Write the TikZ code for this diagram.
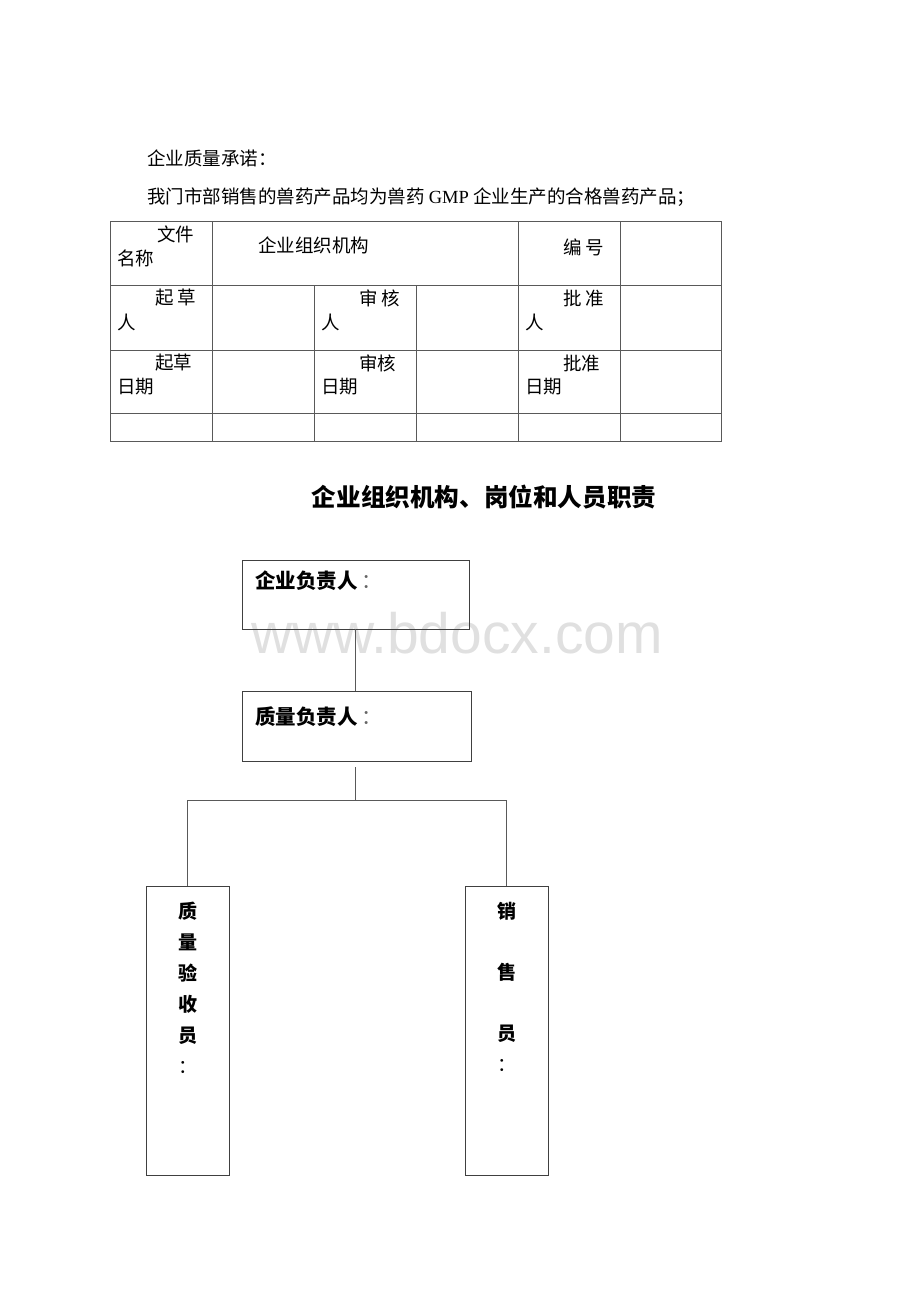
\documentclass[tikz,border=0pt]{standalone}
\usepackage{fontspec}
\setmainfont{Liberation Serif}
\newfontfamily\cjk{Noto Sans CJK SC}
\newfontfamily\wmfont{Liberation Sans}

\begin{document}
\begin{tikzpicture}[x=1pt,y=-1pt,
    every node/.append style={inner sep=0pt},
    cell/.style={anchor=west,font=\cjk\fontsize{18.5}{22}\selectfont},
    post/.style={draw=black!75,thin,rectangle},
    link/.style={draw=black!65,thin},
    tag/.style={anchor=west,font=\cjk\bfseries\fontsize{20.5}{24}\selectfont},
    column/.style={anchor=north,align=center,font=\cjk\bfseries\fontsize{19}{31}\selectfont}]
  \useasboundingbox (0,0) rectangle (920,1302);

  % watermark
  \node[text=black!12,font=\wmfont\fontsize{57}{60}\selectfont] (mark) at (457,633) {www.bdocx.com};

  \node[cell] (pledge) at (147,158) {企业质量承诺：};
  \node[cell] (promise) at (147,197) {我门市部销售的兽药产品均为兽药 {\rmfamily GMP} 企业生产的合格兽药产品；};

  % table
  \draw[link] (110,221) rectangle (721,441);
  \foreach \y in {285,350,413} \draw[link] (110,\y) -- (721,\y);
  \foreach \x in {212,518,620} \draw[link] (\x,221) -- (\x,441);
  \foreach \x in {314,416} \draw[link] (\x,285) -- (\x,441);

  \node[cell] (fileA) at (157,234) {文件};
  \node[cell] (fileB) at (117,258) {名称};
  \node[cell] (fileC) at (258,245) {企业组织机构};
  \node[cell] (code) at (563,247) {编\ 号};

  \node[cell] (draftA) at (155,298) {起\ 草};
  \node[cell] (draftB) at (117,322) {人};
  \node[cell] (checkA) at (359,298) {审\ 核};
  \node[cell] (checkB) at (321,322) {人};
  \node[cell] (approveA) at (563,298) {批\ 准};
  \node[cell] (approveB) at (525,322) {人};

  \node[cell] (ddateA) at (155,363) {起草};
  \node[cell] (ddateB) at (117,387) {日期};
  \node[cell] (cdateA) at (359,363) {审核};
  \node[cell] (cdateB) at (321,387) {日期};
  \node[cell] (adateA) at (563,363) {批准};
  \node[cell] (adateB) at (525,387) {日期};

  % title
  \node[font=\cjk\bfseries\fontsize{24.6}{28}\selectfont] (title) at (484,497) {企业组织机构、岗位和人员职责};

  % chart
  \node[post,minimum width=227pt,minimum height=69pt] (head) at (355.5,594.5) {};
  \node[tag] (headtxt) at (255,581) {企业负责人\,{\mdseries\color{black!60}：}};

  \node[post,minimum width=229pt,minimum height=70pt] (qm) at (356.5,726) {};
  \node[tag] (qmtxt) at (255,717) {质量负责人\,{\mdseries\color{black!60}：}};

  \node[post,minimum width=83pt,minimum height=289pt] (insp) at (187.5,1030.5) {};
  \node[column] (insptxt) at (187.5,902) {质\\量\\验\\收\\员\\{\mdseries ：}};

  \node[post,minimum width=83pt,minimum height=289pt] (sales) at (506.5,1030.5) {};
  \node[column] (salestxt) at (506.5,902) {销\\[30pt]售\\[30pt]员\\{\mdseries ：}};

  \coordinate (fork) at (355.5,800);
  \draw[link] (head.south) -- (qm.north -| head.south);
  \draw[link] ([yshift=-6pt]qm.south -| fork) -- (fork);
  \draw[link] (fork) -| (insp.north);
  \draw[link] (fork) -| (sales.north);
\end{tikzpicture}
\end{document}
